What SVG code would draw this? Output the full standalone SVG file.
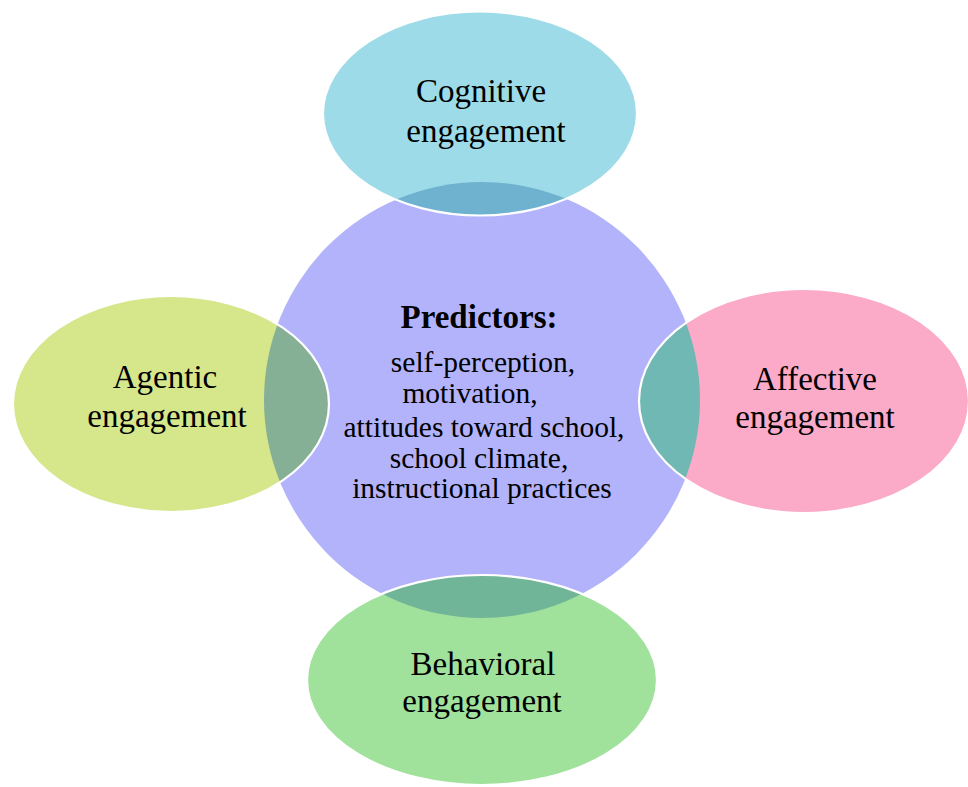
<svg xmlns="http://www.w3.org/2000/svg" width="968" height="787" viewBox="0 0 968 787">
  <defs>
    <clipPath id="clipCenter">
      <circle cx="482" cy="400" r="218"/>
    </clipPath>
    <style>
      text { font-family: "Liberation Serif", "Times New Roman", serif; fill: #000; text-anchor: middle; }
      .lbl { font-size: 33px; }
      .head { font-size: 33px; font-weight: bold; }
      .pred { font-size: 29.5px; }
      .edge { fill: none; stroke: #ffffff; stroke-width: 2.2; }
    </style>
  </defs>
  <rect width="968" height="787" fill="#ffffff"/>

  <g id="predictors">
    <circle cx="482" cy="400" r="218" fill="#b3b3fb"/>
  </g>

  <g id="cognitive">
    <ellipse cx="480" cy="113.5" rx="157" ry="102" fill="#9ddbe8"/>
    <ellipse cx="480" cy="113.5" rx="157" ry="102" fill="#6fb2cf" clip-path="url(#clipCenter)"/>
    <ellipse class="edge" cx="480" cy="113.5" rx="157" ry="102"/>
    <text class="lbl" x="481" y="102">Cognitive</text>
    <text class="lbl" x="486" y="142">engagement</text>
  </g>

  <g id="agentic">
    <ellipse cx="171" cy="404" rx="158" ry="108" fill="#d5e68b"/>
    <ellipse cx="171" cy="404" rx="158" ry="108" fill="#86b096" clip-path="url(#clipCenter)"/>
    <ellipse class="edge" cx="171" cy="404" rx="158" ry="108"/>
    <text class="lbl" x="165" y="388">Agentic</text>
    <text class="lbl" x="167" y="427">engagement</text>
  </g>

  <g id="affective">
    <ellipse cx="804" cy="401" rx="165" ry="112" fill="#fbaac7"/>
    <ellipse cx="804" cy="401" rx="165" ry="112" fill="#70b8b4" clip-path="url(#clipCenter)"/>
    <ellipse class="edge" cx="804" cy="401" rx="165" ry="112"/>
    <text class="lbl" x="815" y="390">Affective</text>
    <text class="lbl" x="815" y="428">engagement</text>
  </g>

  <g id="behavioral">
    <ellipse cx="482" cy="680" rx="175" ry="105" fill="#a0e29c"/>
    <ellipse cx="482" cy="680" rx="175" ry="105" fill="#70b598" clip-path="url(#clipCenter)"/>
    <ellipse class="edge" cx="482" cy="680" rx="175" ry="105"/>
    <text class="lbl" x="483" y="675">Behavioral</text>
    <text class="lbl" x="482" y="712">engagement</text>
  </g>

  <g id="predictors-text">
    <text class="head" x="479" y="328">Predictors:</text>
    <text class="pred" x="483" y="372">self-perception,</text>
    <text class="pred" x="470" y="403">motivation,</text>
    <text class="pred" x="484" y="437">attitudes toward school,</text>
    <text class="pred" x="479" y="468">school climate,</text>
    <text class="pred" x="482" y="498">instructional practices</text>
  </g>

  <g id="connectors"/>
</svg>
